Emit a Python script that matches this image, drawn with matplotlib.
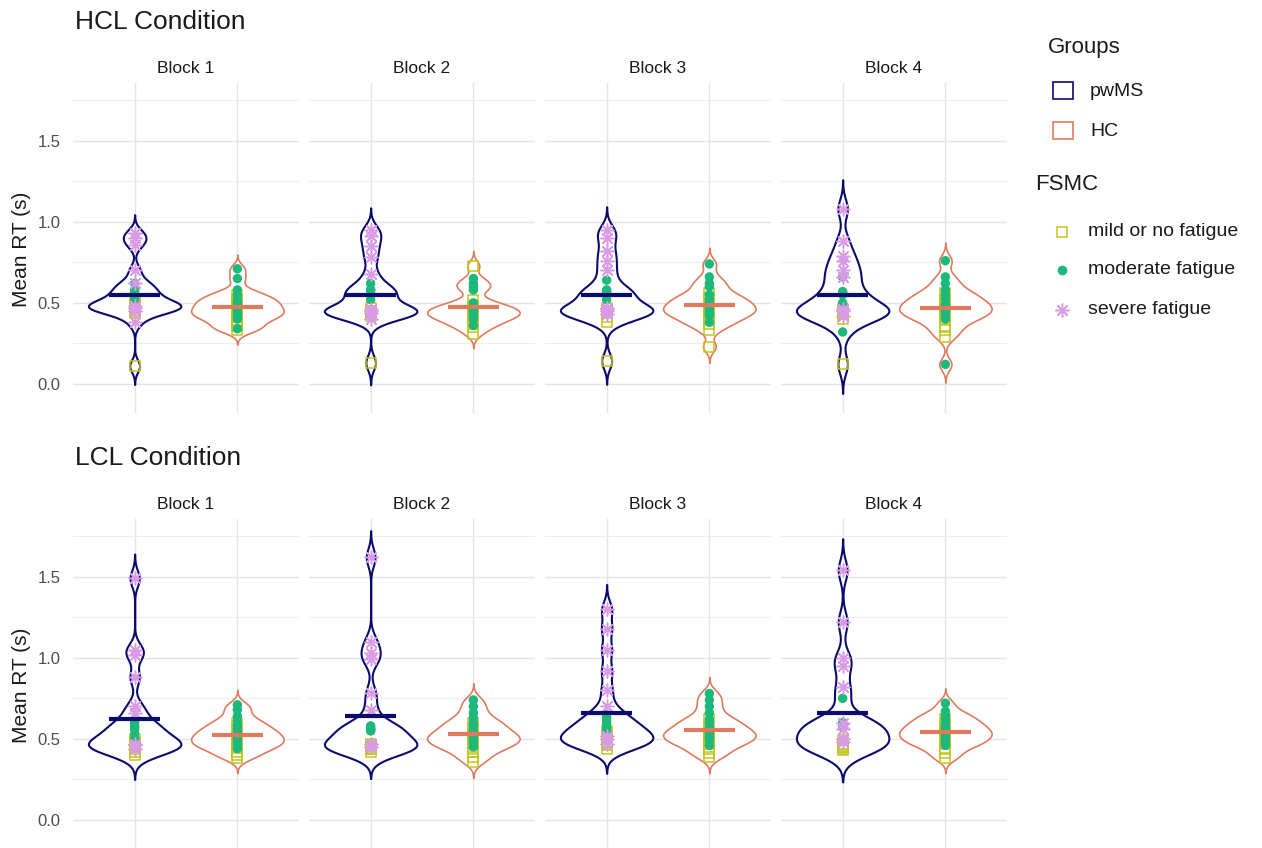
import numpy as np
import matplotlib.pyplot as plt
from matplotlib.patches import Rectangle
from matplotlib.lines import Line2D

plt.rcParams['font.family'] = ['Liberation Sans', 'DejaVu Sans']

blocks = ['Block 1', 'Block 2', 'Block 3', 'Block 4']
groups = ['pwMS', 'HC']
conditions = ['HCL Condition', 'LCL Condition']
fatigue_levels = ['mild or no fatigue', 'moderate fatigue', 'severe fatigue']

# FSMC category of every participant (same order as the RT lists below)
pwms_fsmc = ['mild or no fatigue'] * 7 + ['moderate fatigue'] * 6 + ['severe fatigue'] * 9
hc_fsmc = ['mild or no fatigue'] * 10 + ['moderate fatigue'] * 12

# mean RT (s) per participant, one list per block
hcl_pwms = [
    [0.11, 0.44, 0.47, 0.49, 0.50, 0.48, 0.45, 0.50, 0.53, 0.57, 0.55, 0.58, 0.62,
     0.38, 0.45, 0.48, 0.47, 0.62, 0.70, 0.86, 0.90, 0.93],
    [0.13, 0.42, 0.45, 0.47, 0.45, 0.44, 0.44, 0.52, 0.55, 0.58, 0.56, 0.58, 0.62,
     0.40, 0.46, 0.44, 0.45, 0.68, 0.78, 0.85, 0.91, 0.95],
    [0.14, 0.38, 0.41, 0.45, 0.47, 0.45, 0.44, 0.52, 0.55, 0.58, 0.56, 0.57, 0.64,
     0.43, 0.47, 0.45, 0.46, 0.70, 0.76, 0.82, 0.90, 0.95],
    [0.12, 0.40, 0.44, 0.46, 0.43, 0.44, 0.45, 0.32, 0.50, 0.56, 0.55, 0.57, 0.66,
     0.42, 0.46, 0.45, 0.66, 0.70, 0.76, 0.79, 0.88, 1.08],
]
hcl_hc = [
    [0.33, 0.36, 0.38, 0.41, 0.43, 0.45, 0.47, 0.50, 0.52, 0.55,
     0.34, 0.40, 0.42, 0.44, 0.46, 0.48, 0.50, 0.52, 0.55, 0.58, 0.65, 0.71],
    [0.31, 0.35, 0.38, 0.40, 0.42, 0.44, 0.46, 0.48, 0.52, 0.73,
     0.36, 0.40, 0.42, 0.43, 0.45, 0.46, 0.48, 0.50, 0.58, 0.60, 0.62, 0.65],
    [0.23, 0.33, 0.37, 0.40, 0.43, 0.45, 0.47, 0.50, 0.53, 0.56,
     0.38, 0.42, 0.44, 0.46, 0.48, 0.50, 0.52, 0.55, 0.60, 0.62, 0.66, 0.74],
    [0.29, 0.33, 0.36, 0.40, 0.42, 0.45, 0.47, 0.50, 0.52, 0.56,
     0.12, 0.40, 0.43, 0.45, 0.47, 0.49, 0.52, 0.55, 0.58, 0.62, 0.66, 0.76],
]
lcl_pwms = [
    [0.40, 0.42, 0.44, 0.46, 0.48, 0.50, 0.45, 0.50, 0.53, 0.56, 0.58, 0.60, 0.57,
     0.44, 0.47, 0.46, 0.66, 0.70, 0.88, 1.02, 1.05, 1.49],
    [0.42, 0.44, 0.46, 0.44, 0.44, 0.45, 0.47, 0.55, 0.57, 0.56, 0.55, 0.56, 0.58,
     0.45, 0.47, 0.47, 0.68, 0.78, 0.99, 1.03, 1.10, 1.62],
    [0.44, 0.46, 0.48, 0.50, 0.52, 0.55, 0.47, 0.55, 0.57, 0.59, 0.61, 0.63, 0.65,
     0.47, 0.50, 0.52, 0.70, 0.80, 0.92, 1.05, 1.18, 1.30],
    [0.43, 0.45, 0.47, 0.49, 0.44, 0.45, 0.46, 0.58, 0.60, 0.57, 0.58, 0.59, 0.75,
     0.48, 0.50, 0.82, 0.56, 0.60, 0.95, 1.00, 1.22, 1.54],
]
lcl_hc = [
    [0.38, 0.40, 0.42, 0.45, 0.47, 0.49, 0.51, 0.53, 0.56, 0.60,
     0.44, 0.46, 0.48, 0.50, 0.52, 0.54, 0.56, 0.58, 0.61, 0.64, 0.68, 0.71],
    [0.36, 0.39, 0.42, 0.44, 0.47, 0.49, 0.51, 0.53, 0.56, 0.60,
     0.45, 0.47, 0.49, 0.51, 0.53, 0.55, 0.58, 0.60, 0.63, 0.66, 0.70, 0.74],
    [0.39, 0.41, 0.44, 0.47, 0.49, 0.51, 0.53, 0.55, 0.58, 0.62,
     0.46, 0.49, 0.51, 0.53, 0.55, 0.57, 0.60, 0.62, 0.66, 0.70, 0.74, 0.78],
    [0.38, 0.41, 0.44, 0.47, 0.50, 0.52, 0.54, 0.56, 0.59, 0.62,
     0.46, 0.48, 0.50, 0.52, 0.54, 0.56, 0.58, 0.60, 0.63, 0.65, 0.67, 0.72],
]

group_colors = {'pwMS': '#0B0B6E', 'HC': '#E07A5F'}
fsmc_colors = {'mild or no fatigue': '#C4C41E', 'moderate fatigue': '#1DB97B',
               'severe fatigue': '#D99BE6'}
fsmc_style = {
    'mild or no fatigue': dict(marker='s', s=52, facecolors='none',
                               edgecolors=fsmc_colors['mild or no fatigue'], linewidths=1.1),
    'moderate fatigue': dict(marker='o', s=46, c=fsmc_colors['moderate fatigue'], edgecolors='none'),
    'severe fatigue': dict(marker=(8, 2, 0), s=85, c=fsmc_colors['severe fatigue'], linewidths=1.1),
}


def kde(values, adjust=0.75, n=512):
    # gaussian density, nrd0 bandwidth, tails run 3 bw past the data
    v = np.asarray(values, dtype=float)
    q75, q25 = np.percentile(v, [75, 25])
    bw = adjust * 0.9 * min(v.std(ddof=1), (q75 - q25) / 1.34) * len(v) ** -0.2
    y = np.linspace(v.min() - 3 * bw, v.max() + 3 * bw, n)
    d = np.exp(-0.5 * ((y[:, None] - v[None, :]) / bw) ** 2).sum(1)
    d /= len(v) * bw * np.sqrt(2 * np.pi)
    return y, d


W, H = 1262, 848
fig = plt.figure(figsize=(W / 100, H / 100), dpi=100)

row_tops = [83, 519]
row_height = 330
data = {'HCL Condition': (hcl_pwms, hcl_hc), 'LCL Condition': (lcl_pwms, lcl_hc)}

for r, cond in enumerate(conditions):
    pw, hc = data[cond]
    top = row_tops[r]
    for b, block in enumerate(blocks):
        left = 73 + b * 236
        ax = fig.add_axes([left / W, 1 - (top + row_height) / H, 226 / W, row_height / H])
        ax.set_xlim(0.4, 2.6)
        ax.set_ylim(-0.18, 1.857)
        ax.set_yticks([0, 0.5, 1.0, 1.5])
        ax.set_yticks([0.25, 0.75, 1.25, 1.75], minor=True)
        ax.set_xticks([1, 2])
        ax.set_xticklabels([])
        ax.grid(True, which='major', color='#E4E4E4', lw=1.0, zorder=0)
        ax.grid(True, which='minor', axis='y', color='#EEEEEE', lw=0.8, zorder=0)
        ax.set_axisbelow(True)
        for s in ax.spines.values():
            s.set_visible(False)
        ax.tick_params(which='both', length=0, pad=9, labelsize=12, labelcolor='#4D4D4D')
        if b > 0:
            ax.set_yticklabels([])
        else:
            ax.set_yticklabels(['0.0', '0.5', '1.0', '1.5'])
        ax.set_title(block, fontsize=12.5, color='#1A1A1A', pad=7)

        for g, (grp, vals, fsmc) in enumerate([('pwMS', pw[b], pwms_fsmc), ('HC', hc[b], hc_fsmc)]):
            x = g + 1
            col = group_colors[grp]
            y, d = kde(vals)
            hw = 0.45 * d / d.max()
            ax.fill_betweenx(y, x - hw, x + hw, facecolor='white', edgecolor=col,
                             lw=1.5 if grp == 'pwMS' else 1.2, zorder=2)
            vals = np.asarray(vals)
            cats = np.asarray(fsmc)
            for lvl in fatigue_levels:
                sel = vals[cats == lvl]
                if len(sel):
                    ax.scatter(np.full(len(sel), x), sel, zorder=3, **fsmc_style[lvl])
            ax.hlines(vals.mean(), x - 0.25, x + 0.25, color=col, lw=3, zorder=4)

    fig.text(75 / W, 1 - (top - 61) / H, cond, fontsize=19, color='#1A1A1A', va='center', ha='left')
    fig.text(22 / W, 1 - (top + 166) / H, 'Mean RT (s)', fontsize=15, color='#1A1A1A',
             rotation=90, va='center', ha='center')


def fy(py):
    return 1 - py / H


# Groups legend
fig.text(1048 / W, fy(48), 'Groups', fontsize=16, color='#1A1A1A', va='center')
for grp, cy in zip(groups, [90, 130]):
    fig.add_artist(Rectangle((1053 / W, fy(cy + 8.5)), 20 / W, 17 / H, transform=fig.transFigure,
                             facecolor='white', edgecolor=group_colors[grp], lw=1.2))
    fig.text(1090 / W, fy(cy + 1), grp, fontsize=14, color='#1A1A1A', va='center')

# FSMC legend
fig.text(1035 / W, fy(185), 'FSMC', fontsize=16, color='#1A1A1A', va='center')
key_kw = {
    'mild or no fatigue': dict(marker='s', ms=7.5, mfc='none', mec=fsmc_colors['mild or no fatigue'], mew=1.1),
    'moderate fatigue': dict(marker='o', ms=7, mfc=fsmc_colors['moderate fatigue'], mec='none'),
    'severe fatigue': dict(marker=(8, 2, 0), ms=10, mec=fsmc_colors['severe fatigue'], mew=1.1),
}
for lvl, cy in zip(fatigue_levels, [232, 270, 310]):
    fig.add_artist(Line2D([1062 / W], [fy(cy)], ls='none', transform=fig.transFigure, **key_kw[lvl]))
    fig.text(1088 / W, fy(cy), lvl, fontsize=14, color='#1A1A1A', va='center')

fig.savefig('out.png', dpi=100, facecolor='white')
